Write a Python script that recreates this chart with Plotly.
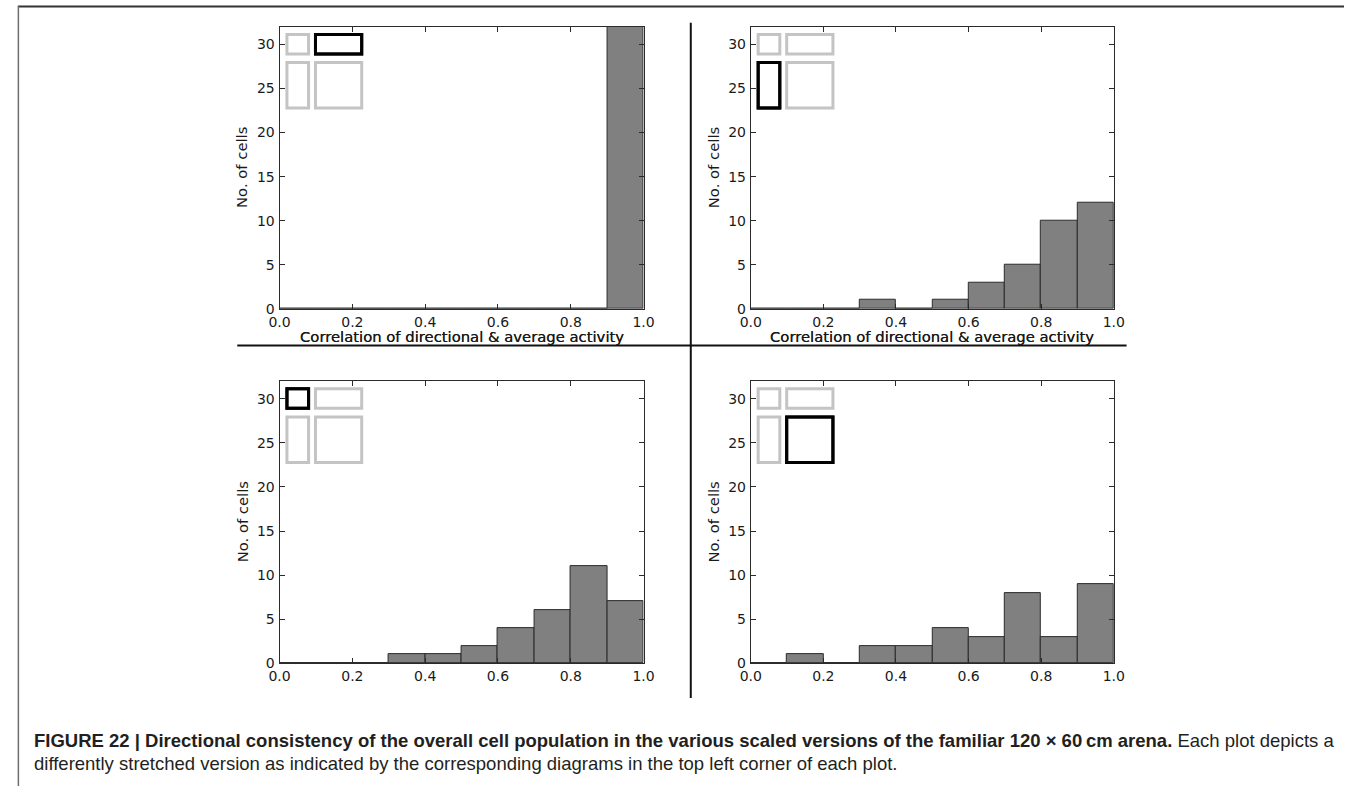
import plotly.graph_objects as go

# Histogram bins of the correlation coefficient (width 0.1 from 0 to 1)
bin_edges = [0.0, 0.1, 0.2, 0.3, 0.4, 0.5, 0.6, 0.7, 0.8, 0.9, 1.0]

# Cell counts per bin, one list per arena version (32 cells each)
counts_top_left = [0, 0, 0, 0, 0, 0, 0, 0, 0, 32]
counts_top_right = [0, 0, 0, 1, 0, 1, 3, 5, 10, 12]
counts_bottom_left = [0, 0, 0, 1, 1, 2, 4, 6, 11, 7]
counts_bottom_right = [0, 1, 0, 2, 2, 4, 3, 8, 3, 9]

x_tick_vals = [0.0, 0.2, 0.4, 0.6, 0.8, 1.0]
x_tick_text = ["0.0", "0.2", "0.4", "0.6", "0.8", "1.0"]
y_tick_vals = [0, 5, 10, 15, 20, 25, 30]

x_title = "Correlation of directional & average activity"
y_title = "No. of cells"

caption_bold = ("FIGURE 22 | Directional consistency of the overall cell population in the "
                "various scaled versions of the familiar 120 \u00d7 60\u2009cm arena.")
caption_rest_1 = " Each plot depicts a"
caption_rest_2 = ("differently stretched version as indicated by the corresponding diagrams "
                  "in the top left corner of each plot.")

W, H = 1355, 794
TICK_FONT = dict(family="DejaVu Sans", size=14, color="#1a1a1a")
TITLE_FONT = dict(family="DejaVu Sans", size=14.8, color="#1a1a1a")

# panel boxes in pixels: (left, top, right, bottom), counts, highlighted cell (row, col)
panels = [
    ((273, 27, 643, 312), counts_top_left, (0, 1)),
    ((752, 27, 1121, 312), counts_top_right, (1, 0)),
    ((273, 385, 643, 670), counts_bottom_left, (0, 0)),
    ((752, 385, 1121, 670), counts_bottom_right, (1, 1)),
]

centers = [(a + b) / 2 for a, b in zip(bin_edges[:-1], bin_edges[1:])]
widths = [b - a for a, b in zip(bin_edges[:-1], bin_edges[1:])]

fig = go.Figure()
layout = dict(
    width=W, height=H,
    margin=dict(l=0, r=0, t=0, b=0),
    paper_bgcolor="white", plot_bgcolor="white",
    showlegend=False, bargap=0,
)
shapes = []
annotations = []

# stroke-centre offsets (px) of the arena diagram inside each panel
col_x = [(7.5, 29.5), (36.5, 83.5)]
row_y = [(7.8, 27.5), (36.2, 82.2)]

for i, ((l, t, r, b), counts, hl) in enumerate(panels):
    n = "" if i == 0 else str(i + 1)
    xa, ya = "x" + n, "y" + n
    fig.add_trace(go.Bar(
        x=centers, y=counts, width=widths,
        marker=dict(color="#808080", line=dict(color="#2b2b2b", width=1)),
        xaxis=xa, yaxis=ya, hoverinfo="x+y",
    ))
    axis_common = dict(
        showgrid=False, zeroline=False, showline=True, linecolor="#2b2b2b",
        linewidth=1, mirror="ticks", ticks="inside", ticklen=5,
        tickcolor="#2b2b2b", tickwidth=1, tickfont=TICK_FONT,
    )
    layout["xaxis" + n] = dict(
        axis_common, domain=[l / W, r / W], anchor=ya, range=[0, 1],
        tickvals=x_tick_vals, ticktext=x_tick_text,
    )
    layout["yaxis" + n] = dict(
        axis_common, domain=[1 - b / H, 1 - t / H], anchor=xa, range=[0, 32],
        tickvals=y_tick_vals, ticklabelstandoff=1,
    )
    pw, ph = r - l, b - t
    # arena diagram: grey 2x2 layout with the current version outlined in black
    cells = [(rr, cc) for rr in range(2) for cc in range(2)]
    for rr, cc in cells + [hl]:
        x0, x1 = col_x[cc]
        y0, y1 = row_y[rr]
        black = (rr, cc) == hl
        shapes.append(dict(
            type="rect", xref=xa + " domain", yref=ya + " domain",
            x0=x0 / pw, x1=x1 / pw, y0=1 - y0 / ph, y1=1 - y1 / ph,
            line=dict(color="#000000" if black else "#c4c4c4", width=3),
            fillcolor="rgba(0,0,0,0)", layer="above",
        ))
    annotations.append(dict(
        text=x_title, xref="paper", yref="paper", x=(l + r) / 2 / W,
        y=1 - 340 / H, xanchor="center", yanchor="middle", showarrow=False,
        font=TITLE_FONT,
    ))
    annotations.append(dict(
        text=y_title, xref="paper", yref="paper", x=(l - 38) / W,
        y=1 - (t + b) / 2 / H, xanchor="center", yanchor="middle",
        showarrow=False, textangle=-90, font=TITLE_FONT,
    ))

# figure frame and quadrant dividers
shapes += [
    dict(type="line", xref="paper", yref="paper", x0=7 / W, x1=1, y0=1 - 6.5 / H,
         y1=1 - 6.5 / H, line=dict(color="#333333", width=2)),
    dict(type="line", xref="paper", yref="paper", x0=7.5 / W, x1=7.5 / W, y0=1 - 6 / H,
         y1=0, line=dict(color="#6e6e6e", width=1.5)),
    dict(type="line", xref="paper", yref="paper", x0=230 / W, x1=1134 / W,
         y0=1 - 349 / H, y1=1 - 349 / H, line=dict(color="#111111", width=2)),
    dict(type="line", xref="paper", yref="paper", x0=691 / W, x1=691 / W,
         y0=1 - 23 / H, y1=1 - 705 / H, line=dict(color="#111111", width=2)),
]

CAP_FONT = dict(family="Liberation Sans", size=18.5, color="#231f20")
annotations.append(dict(
    text="<b>" + caption_bold + "</b>" + caption_rest_1,
    xref="paper", yref="paper", x=21 / W, y=1 - 748 / H, xanchor="left",
    yanchor="middle", showarrow=False, align="left", font=CAP_FONT,
))
annotations.append(dict(
    text=caption_rest_2,
    xref="paper", yref="paper", x=21 / W, y=1 - 771 / H, xanchor="left",
    yanchor="middle", showarrow=False, align="left", font=CAP_FONT,
))

layout["shapes"] = shapes
layout["annotations"] = annotations
fig.update_layout(**layout)
fig.write_html("out.html")
